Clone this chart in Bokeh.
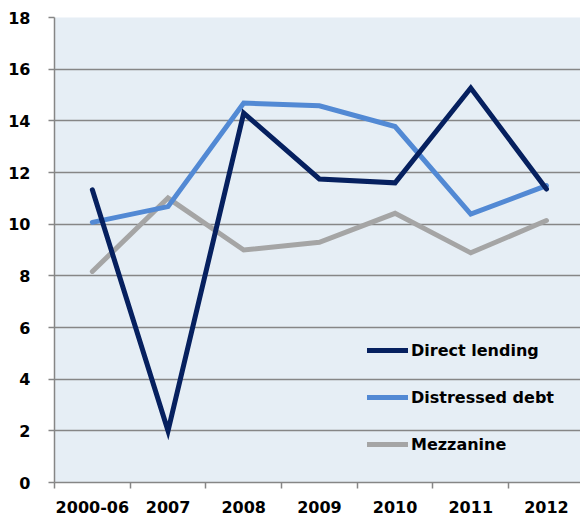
from bokeh.plotting import figure
from bokeh.models import FixedTicker, Legend, LegendItem, Range1d
from bokeh.embed import file_html
from bokeh.resources import INLINE

categories = ["2000-06", "2007", "2008", "2009", "2010", "2011", "2012"]
direct_lending = [11.33, 2.0, 14.3, 11.75, 11.6, 15.27, 11.36]
distressed_debt = [10.07, 10.68, 14.69, 14.58, 13.78, 10.39, 11.49]
mezzanine = [8.17, 11.01, 9.0, 9.3, 10.42, 8.89, 10.14]
y_ticks = [0, 2, 4, 6, 8, 10, 12, 14, 16, 18]

FONT = "DejaVu Sans"
xs = [i + 0.5 for i in range(len(categories))]

p = figure(output_backend="svg", toolbar_location=None,
           frame_width=526, frame_height=465,
           min_border_left=54, min_border_top=17, min_border_right=0, min_border_bottom=35,
           x_range=Range1d(0, 6.95), y_range=Range1d(0, 18))
p.background_fill_color = "#e6eef5"
p.border_fill_color = "white"
p.outline_line_color = None

GRID = "#868686"
p.xgrid.grid_line_color = None
p.ygrid.ticker = FixedTicker(ticks=y_ticks)
p.ygrid.grid_line_color = GRID
p.ygrid.grid_line_width = 1.5

p.yaxis.ticker = FixedTicker(ticks=y_ticks)
p.yaxis.axis_line_color = GRID
p.yaxis.axis_line_width = 1.5
p.yaxis.major_tick_line_color = GRID
p.yaxis.major_tick_line_width = 1.5
p.yaxis.major_tick_in = 0
p.yaxis.major_tick_out = 6
p.yaxis.minor_tick_line_color = None
p.yaxis.major_label_standoff = 18
p.yaxis.major_label_text_font = FONT
p.yaxis.major_label_text_font_style = "bold"
p.yaxis.major_label_text_font_size = "16px"
p.yaxis.major_label_text_color = "black"

p.xaxis.ticker = FixedTicker(ticks=xs, minor_ticks=list(range(0, 7)))
p.xaxis.major_label_overrides = {x: c for x, c in zip(xs, categories)}
p.xaxis.axis_line_color = GRID
p.xaxis.axis_line_width = 1.5
p.xaxis.major_tick_line_color = None
p.xaxis.minor_tick_line_color = GRID
p.xaxis.minor_tick_line_width = 1.5
p.xaxis.minor_tick_in = 0
p.xaxis.minor_tick_out = 6
p.xaxis.major_label_standoff = 12
p.xaxis.major_label_text_font = FONT
p.xaxis.major_label_text_font_style = "bold"
p.xaxis.major_label_text_font_size = "16px"
p.xaxis.major_label_text_color = "black"

series = [("Direct lending", direct_lending, "#06205f"),
          ("Distressed debt", distressed_debt, "#5289d4"),
          ("Mezzanine", mezzanine, "#a5a5a5")]
renderers = []
for name, vals, col in [series[2], series[1], series[0]]:
    r = p.line(xs, vals, line_color=col, line_width=5, line_cap="round", line_join="miter")
    renderers.append((name, r))
rd = dict(renderers)
items = [LegendItem(label=n, renderers=[rd[n]]) for n, _, _ in series]
legend = Legend(items=items, location=(313, 28), orientation="vertical",
                glyph_width=41, glyph_height=20, label_height=20, spacing=27,
                label_standoff=3, padding=0, margin=0,
                background_fill_alpha=0, border_line_color=None,
                label_text_font=FONT, label_text_font_style="bold",
                label_text_font_size="16px", label_text_color="black")
p.add_layout(legend)

open("out.html", "w").write(file_html(p, INLINE))
